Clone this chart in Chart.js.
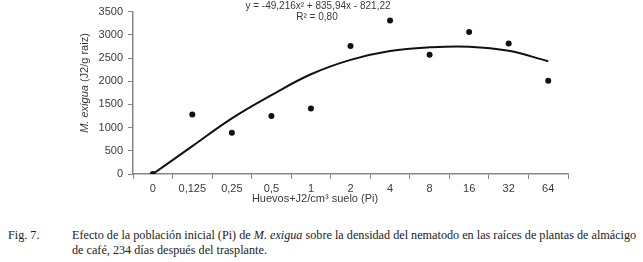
<!DOCTYPE html>
<html>
<head>
<meta charset="utf-8">
<script src="https://cdn.jsdelivr.net/npm/chart.js@4.4.1/dist/chart.umd.min.js"></script>
<style>
  body { margin: 0; background: #fff; width: 643px; height: 262px; overflow: hidden; position: relative; }
  #wrap { position: absolute; left: 0; top: 0; width: 643px; height: 215px; }
  .cap { position: absolute; font-family: "Liberation Serif", "Times New Roman", serif; font-size: 12.2px; color: #222; line-height: 15px; }
</style>
</head>
<body>
<div id="wrap"><canvas id="piChart" width="643" height="215"></canvas></div>
<div class="cap" style="left:8px; top:228px;">Fig. 7.</div>
<div class="cap" style="left:72px; top:228px; width:570px; white-space:nowrap;">Efecto de la población inicial (Pi) de <i>M. exigua</i> sobre la densidad del nematodo en las raíces de plantas de almácigo<br>de café, 234 días después del trasplante.</div>
<script>
// categories: initial population (eggs+J2 / cm3 soil)
const categories = ['0', '0,125', '0,25', '0,5', '1', '2', '4', '8', '16', '32', '64'];
// observed M. exigua (J2/g root)
const observed = [0, 1285, 890, 1250, 1410, 2760, 3310, 2570, 3060, 2810, 2010];
// polynomial trend line
const trend = [0, 600, 1200, 1700, 2150, 2460, 2650, 2730, 2745, 2655, 2430];
const yTicks = [0, 500, 1000, 1500, 2000, 2500, 3000, 3500];

const axisColor = '#858585';
const textColor = '#3a3a3a';

const labelsPlugin = {
  id: 'extraText',
  afterDraw(chart) {
    const ctx = chart.ctx;
    ctx.save();
    ctx.fillStyle = textColor;
    ctx.textBaseline = 'middle';

    // equation + R2
    ctx.textAlign = 'center';
    ctx.font = '10px "Liberation Sans", Arial, sans-serif';
    ctx.fillText('y = -49,216x\u00B2 + 835,94x - 821,22', 318, 6);
    ctx.fillText('R\u00B2 = 0,80', 317, 17);

    // x axis title
    ctx.font = '11px "Liberation Sans", Arial, sans-serif';
    ctx.fillText('Huevos+J2/cm\u00B3 suelo (Pi)', 315, 199);

    // y axis title, mixed italic
    ctx.translate(85, 83);
    ctx.rotate(-Math.PI / 2);
    const italicFont = 'italic 11px "Liberation Sans", Arial, sans-serif';
    const normalFont = '11px "Liberation Sans", Arial, sans-serif';
    const part1 = 'M. exigua';
    const part2 = ' (J2/g raiz)';
    ctx.font = italicFont;
    const w1 = ctx.measureText(part1).width;
    ctx.font = normalFont;
    const w2 = ctx.measureText(part2).width;
    const x0 = -(w1 + w2) / 2;
    ctx.textAlign = 'left';
    ctx.font = italicFont;
    ctx.fillText(part1, x0, 0);
    ctx.font = normalFont;
    ctx.fillText(part2, x0 + w1, 0);
    ctx.restore();
  }
};

new Chart(document.getElementById('piChart').getContext('2d'), {
  type: 'line',
  data: {
    labels: categories,
    datasets: [
      {
        label: 'Observado',
        data: observed,
        showLine: false,
        pointRadius: 3,
        pointBackgroundColor: '#111',
        pointBorderColor: '#111',
        pointBorderWidth: 0
      },
      {
        label: 'Tendencia',
        data: trend,
        borderColor: '#111',
        borderWidth: 2,
        pointRadius: 0,
        tension: 0.4,
        fill: false
      }
    ]
  },
  options: {
    responsive: false,
    animation: false,
    layout: { padding: { top: 10, right: 75, left: 0, bottom: 0 } },
    plugins: {
      legend: { display: false },
      tooltip: { enabled: false },
      title: { display: false }
    },
    scales: {
      x: {
        type: 'category',
        offset: true,
        grid: { offset: true, drawOnChartArea: false, drawTicks: true, tickLength: 5, color: axisColor, lineWidth: 1 },
        border: { color: axisColor, width: 1.5 },
        ticks: { color: textColor, font: { family: '"Liberation Sans", Arial, sans-serif', size: 11 }, padding: 3, maxRotation: 0, autoSkip: false },
        afterFit(scale) { scale.height = 41; }
      },
      y: {
        min: 0,
        max: 3500,
        afterBuildTicks(scale) { scale.ticks = yTicks.map(v => ({ value: v })); },
        grid: { drawOnChartArea: false, drawTicks: true, tickLength: 5, color: axisColor, lineWidth: 1 },
        border: { color: axisColor, width: 1.5 },
        ticks: {
          color: textColor,
          font: { family: '"Liberation Sans", Arial, sans-serif', size: 11 },
          padding: 5,
          callback: (v) => String(v)
        },
        afterFit(scale) { scale.width = 133; }
      }
    }
  },
  plugins: [labelsPlugin]
});
</script>
</body>
</html>
